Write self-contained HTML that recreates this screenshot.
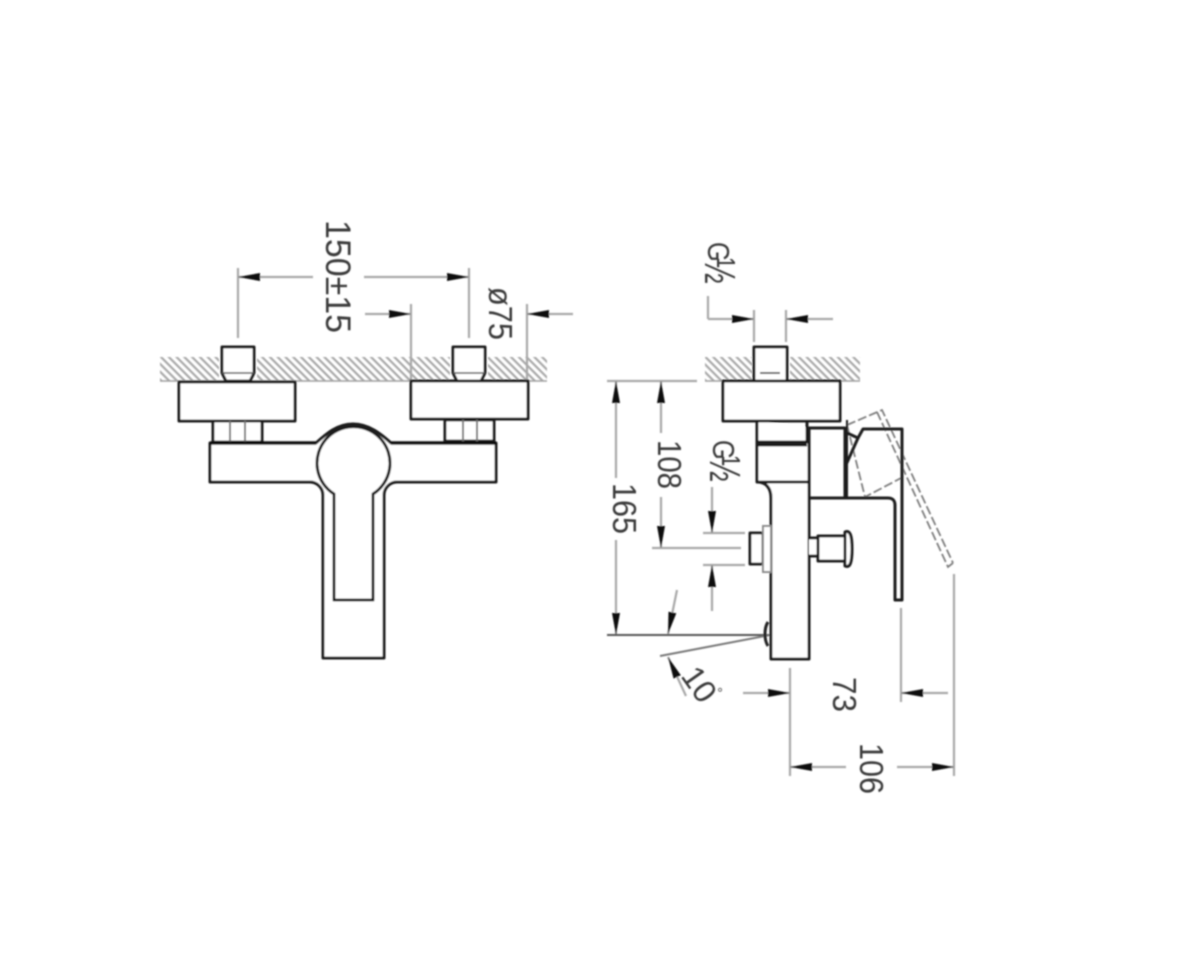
<!DOCTYPE html>
<html><head><meta charset="utf-8"><style>
html,body{margin:0;padding:0;background:#fff}
svg{display:block}
text{font-family:"Liberation Sans",sans-serif;fill:#3a3a3a;font-size:33px}
</style></head><body>
<svg width="1200" height="972" viewBox="0 0 1200 972" xmlns="http://www.w3.org/2000/svg">
<defs>
<pattern id="h" width="5.5" height="5.5" patternUnits="userSpaceOnUse" patternTransform="rotate(45)">
<rect x="0" y="0" width="5.5" height="2.2" fill="#a8a8a8"/>
</pattern>
<filter id="b" x="-5%" y="-5%" width="110%" height="110%"><feGaussianBlur stdDeviation="0.7"/></filter>
<marker id="a" viewBox="0 0 22 8" refX="22" refY="4" markerWidth="22" markerHeight="8" markerUnits="userSpaceOnUse" orient="auto-start-reverse"><path d="M0 0L22 4L0 8Z" fill="#111"/></marker>
</defs>
<rect width="1200" height="972" fill="#fff"/>
<g filter="url(#b)">
<!-- hatching -->
<g>
<rect x="160" y="357" width="59" height="24" fill="url(#h)"/>
<rect x="257" y="357" width="193" height="24" fill="url(#h)"/>
<rect x="488" y="357" width="59" height="24" fill="url(#h)"/>
<rect x="705" y="357" width="47" height="24" fill="url(#h)"/>
<rect x="790" y="357" width="70" height="24" fill="url(#h)"/>
<path d="M160 381H547M705 381H860" stroke="#a0a0a0" stroke-width="1.5" fill="none"/>
</g>
<!-- dimension lines -->
<g stroke="#a8a8a8" stroke-width="2.2" fill="none">
<path d="M238 268V338M469 268V338M411 304V382M527 304V382"/>
<path d="M754 310V342M786 310V342M708 296V319"/>
<path d="M607 381H697M652 548H741M703 533H745M703 565H745"/>
<path d="M790 668V702M901 608V702M790 702V776M954 574V776"/>
<path d="M238 277H313" marker-start="url(#a)"/>
<path d="M364 277H469" marker-end="url(#a)"/>
<path d="M365 314H411" marker-end="url(#a)"/>
<path d="M573 314H527" marker-end="url(#a)"/>
<path d="M708 319H754" marker-end="url(#a)"/>
<path d="M833 319H786" marker-end="url(#a)"/>
<path d="M616 478V381" marker-end="url(#a)"/>
<path d="M616 540V635" marker-end="url(#a)"/>
<path d="M661 433V381" marker-end="url(#a)"/>
<path d="M661 497V548" marker-end="url(#a)"/>
<path d="M712 487V533" marker-end="url(#a)"/>
<path d="M712 611V565" marker-end="url(#a)"/>
<path d="M677 590L668 634" marker-end="url(#a)"/>
<path d="M686 696L668 657" marker-end="url(#a)"/>
<path d="M743 693H790" marker-end="url(#a)"/>
<path d="M948 693H901" marker-end="url(#a)"/>
<path d="M846 767H790" marker-end="url(#a)"/>
<path d="M897 767H954" marker-end="url(#a)"/>
</g>
<path d="M607 635H770" stroke="#555" stroke-width="2" fill="none"/>
<path d="M770 635L660 656" stroke="#777" stroke-width="2" fill="none"/>
<!-- front view -->
<g stroke="#1c1c1c" stroke-width="3" fill="#fff" stroke-linejoin="round">
<path d="M222 347H254V373L250 381H226L222 373Z"/>
<path d="M453 347H485V373L481 381H457L453 373Z"/>
<rect x="179" y="382" width="116" height="39"/>
<rect x="411" y="381" width="117" height="38"/>
<rect x="213" y="421" width="49" height="21"/>
<rect x="445" y="420" width="49" height="21"/>
<path d="M210 443H316C326 434 337 424 353 424C369 424 381 434 391 443H496V482H397C390 482 384 488 384 495V658H323V495C323 488 317 482 310 482H210Z"/>
<path d="M334 494V600H373V494L373 494A36.5 36.5 0 1 0 334 494Z"/>
</g>
<path d="M230 421V442M245 421V442M463 420V441M477 420V441" stroke="#777" stroke-width="2" fill="none"/>
<path d="M222 373H254M453 373H485" stroke="#555" stroke-width="1.5" fill="none"/>
<path d="M210 443H316M391 443H496" stroke="#111" stroke-width="3.4" fill="none"/>
<!-- side view -->
<g fill="none">
<g stroke="#7d7d7d" stroke-width="1.8" stroke-dasharray="9 3">
<path d="M847 425L882 410L953 563"/>
<path d="M877 412L948 567L953 563"/>
<path d="M847 425L865 497L903 477"/>
</g>
<g stroke="#1c1c1c" stroke-width="3" stroke-linejoin="round">
<path d="M754 347H787V381H754Z" fill="#fff"/>
<path d="M760 373H780" stroke-width="1.5"/>
<rect x="723" y="381" width="117" height="40" fill="#fff"/>
<path d="M757 421V482C766 482 771 488 771 498V659H809V428" fill="#fff"/>
<path d="M757 421H807V442H757M757 445H807M757 482H808"/>
<path d="M808 428H845V498H808"/>
<path d="M845 432L858 438L863 429H902V600H895V505C895 500 892 498 888 498H845"/>
<path d="M858 438L845 467"/>
<path d="M847 420V498" stroke-width="2"/>
<path d="M750 533H763V564H750Z" fill="#fff"/>
<path d="M809 538H818V556H809M818 536L845 536V561H818ZM845 532C850 530 852 535 852 549C852 563 850 568 845 566Z" fill="#fff"/>
</g>
<path d="M763 526H771V572H763Z" stroke="#8a8a8a" stroke-width="2" fill="#fff"/>
<path d="M768 622C764 628 764 640 768 646" stroke="#222" stroke-width="3"/>
</g>
</g>
<!-- labels -->
<g filter="url(#b)">
<text transform="translate(326,220) rotate(90)" textLength="113" lengthAdjust="spacingAndGlyphs" style="font-size:35px">150±15</text>
<text transform="translate(489,287) rotate(90)" textLength="53" lengthAdjust="spacingAndGlyphs">ø75</text>
<text transform="translate(613,483) rotate(90)" textLength="51" lengthAdjust="spacingAndGlyphs">165</text>
<text transform="translate(658,440) rotate(90)" textLength="49" lengthAdjust="spacingAndGlyphs">108</text>
<text transform="translate(833,677) rotate(90)" textLength="35" lengthAdjust="spacingAndGlyphs">73</text>
<text transform="translate(860,743) rotate(90)" textLength="51" lengthAdjust="spacingAndGlyphs">106</text>
<text transform="translate(708,242) rotate(90) scale(.82,1)" style="font-size:31px">G</text>
<text transform="translate(705,258) rotate(90) scale(.7,1)" style="font-size:44px">½</text>
<text transform="translate(713,440) rotate(90) scale(.82,1)" style="font-size:31px">G</text>
<text transform="translate(710,456) rotate(90) scale(.7,1)" style="font-size:44px">½</text>
<text transform="translate(680,676) rotate(55)" style="font-size:32px">10</text>
<text transform="translate(712,692) rotate(55)" style="font-size:14px">°</text>
</g>
</svg>
</body></html>
